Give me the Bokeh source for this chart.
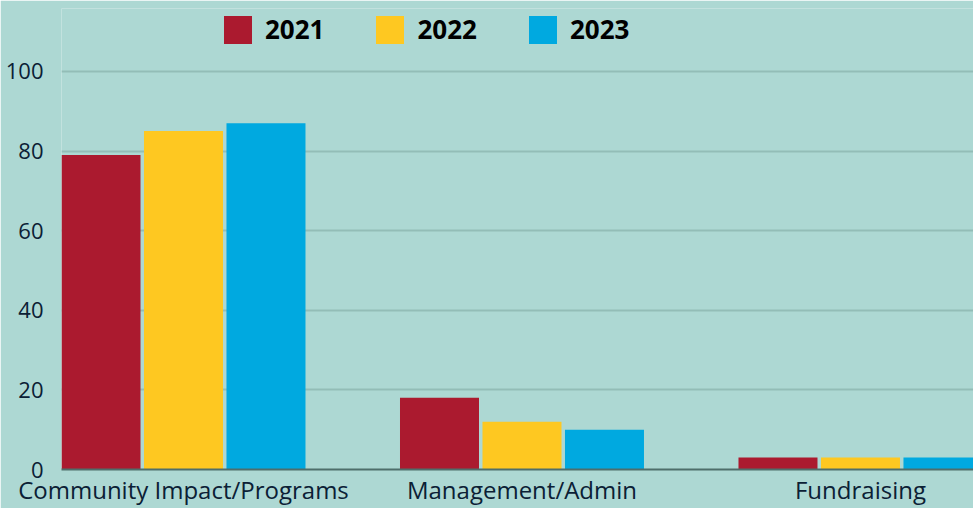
from bokeh.plotting import figure
from bokeh.models import ColumnDataSource, FixedTicker, Legend, LegendItem, Range1d
from bokeh.embed import file_html
from bokeh.resources import INLINE

categories = ["Community Impact/Programs", "Management/Admin", "Fundraising"]
years = ["2021", "2022", "2023"]
values_2021 = [79, 18, 3]
values_2022 = [85, 12, 3]
values_2023 = [87, 10, 3]
colors = ["#ab1a2f", "#fec821", "#00a9e0"]
y_ticks = [0, 20, 40, 60, 80, 100]

FONT = "Open Sans"
TEXT = "#0b2035"
BG = "#add8d3"

p = figure(width=973, height=508, output_backend="svg", toolbar_location=None,
           x_range=Range1d(-0.3604, 2.3339), y_range=Range1d(0, 115.8),
           min_border_left=61, min_border_right=0, min_border_top=8, min_border_bottom=39)
p.background_fill_color = BG
p.border_fill_color = BG
p.outline_line_color = None

offsets = [-0.2437, 0.0, 0.2437]
series = [values_2021, values_2022, values_2023]
renderers = []
for yr, vals, off, col in zip(years, series, offsets, colors):
    src = ColumnDataSource(dict(x=[i + off for i in range(len(categories))], top=vals))
    r = p.vbar(x="x", top="top", bottom=0, width=0.2334, source=src,
               fill_color=col, line_color=None)
    renderers.append((yr, r))

p.xgrid.grid_line_color = None
p.ygrid.grid_line_color = "#93bdb7"
p.ygrid.grid_line_width = 2
p.yaxis.ticker = FixedTicker(ticks=y_ticks)
p.yaxis.axis_line_color = None
p.yaxis.major_tick_line_color = None
p.yaxis.minor_tick_line_color = None
p.yaxis.major_tick_out = 0
p.yaxis.minor_tick_out = 0
p.yaxis.major_label_standoff = 18
p.yaxis.major_label_text_font = FONT
p.yaxis.major_label_text_font_size = "22px"
p.yaxis.major_label_text_color = TEXT

p.xaxis.ticker = FixedTicker(ticks=list(range(len(categories))))
p.xaxis.major_label_overrides = {i: c for i, c in enumerate(categories)}
p.xaxis.axis_line_color = "#4e6e6b"
p.xaxis.axis_line_width = 2
p.xaxis.major_tick_line_color = None
p.xaxis.minor_tick_line_color = None
p.xaxis.major_tick_out = 0
p.xaxis.minor_tick_out = 0
p.xaxis.major_label_standoff = 3
p.xaxis.major_label_text_font = FONT
p.xaxis.major_label_text_font_size = "24px"
p.xaxis.major_label_text_color = TEXT

legend = Legend(items=[LegendItem(label=yr, renderers=[r]) for yr, r in renderers],
                location=(159, 422), orientation="horizontal",
                glyph_width=35, glyph_height=35, label_standoff=10, spacing=48,
                padding=0, margin=0, background_fill_alpha=0, border_line_color=None,
                label_text_font=FONT, label_text_font_style="bold",
                label_text_font_size="26px", label_text_color="#000000")
p.add_layout(legend)

open("out.html", "w").write(file_html(p, INLINE))
